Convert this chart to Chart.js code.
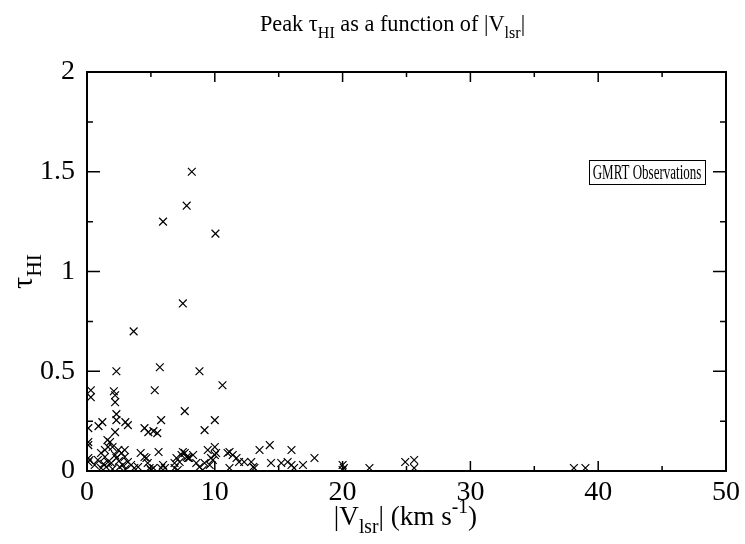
<!DOCTYPE html>
<html>
<head>
<meta charset="utf-8">
<script src="https://cdn.jsdelivr.net/npm/chart.js@4/dist/chart.umd.min.js"></script>
<style>
  html, body { margin: 0; padding: 0; background: #fff; }
  #wrap { width: 745px; height: 544px; }
</style>
</head>
<body>
<div id="wrap"><canvas id="tauChart"></canvas></div>
<script>
// |V_lsr| (km/s) and peak tau_HI
var vlsr = [
    8.2, 7.8, 5.95, 10.05, 7.5, 3.65,
    8.8, 2.3, 5.7, 10.6, 5.3,
    0.3, 0.3, 2.1, 2.2, 2.2,
    7.65, 2.3, 5.8, 10.0, 9.2,
    1.2, 0.9, 2.3, 3.0, 3.2, 0.1,
    4.5, 4.8, 5.5, 5.2, 2.2,
    0.1, 0.1, 1.6, 1.8, 2.0,
    5.6, 0.1, 0.1, 0.2,
    1.1, 1.4, 0.85, 1.65, 1.9, 2.3, 2.7, 2.95, 3.2, 3.45, 2.55, 3.7,
    4.2, 4.5, 4.75, 5.0, 4.0, 1.1, 0.6, 1.5, 2.0, 2.8, 3.0, 1.3, 2.5,
    1.4, 1.65, 2.45, 2.95, 2.2, 4.65, 5.2,
    10.0, 10.1, 9.85, 11.0, 7.5, 7.65, 7.8, 8.3, 7.0, 7.25, 6.85,
    5.95, 6.1, 5.8, 8.55, 8.8, 9.05, 9.6, 4.9, 6.85, 7.1, 8.0, 9.45, 9.7, 10.0,
    7.4, 7.9, 9.2,
    11.15, 11.4, 11.7, 11.9, 12.3, 12.85, 13.0, 13.1, 11.15, 13.5, 14.3,
    14.4, 15.2, 15.7, 16.0, 16.2, 16.9, 16.0, 17.8,
    20.0, 20.1, 20.0, 22.1, 24.9, 25.6, 25.6, 38.1, 39.0
];
var tauHI = [
    1.50, 1.33, 1.25, 1.19, 0.84, 0.70,
    0.50, 0.50, 0.52, 0.43, 0.405,
    0.405, 0.37, 0.40, 0.38, 0.345,
    0.30, 0.285, 0.255, 0.255, 0.205,
    0.245, 0.225, 0.255, 0.245, 0.23, 0.215,
    0.215, 0.195, 0.19, 0.20, 0.195,
    0.145, 0.13, 0.155, 0.145, 0.12,
    0.095, 0.065, 0.045, 0.055,
    0.09, 0.07, 0.055, 0.045, 0.04, 0.065, 0.09, 0.07, 0.045, 0.03, 0.02, 0.015,
    0.09, 0.07, 0.04, 0.005, 0.02, 0.015, 0.03, 0.02, 0.01, 0.03, 0.01, 0.035, 0.05,
    0.105, 0.12, 0.105, 0.105, 0.08, 0.065, 0.015,
    0.12, 0.09, 0.055, 0.09, 0.095, 0.09, 0.07, 0.08, 0.065, 0.045, 0.04,
    0.03, 0.015, 0.015, 0.04, 0.02, 0.005, 0.03, 0.015, 0.015, 0.005, 0.065, 0.105, 0.065, 0.08,
    0.08, 0.065, 0.04,
    0.095, 0.08, 0.065, 0.045, 0.045, 0.045, 0.02, 0.015, 0.015, 0.105, 0.13,
    0.04, 0.04, 0.045, 0.03, 0.015, 0.03, 0.105, 0.065,
    0.03, 0.015, 0.005, 0.015, 0.045, 0.055, 0.015, 0.015, 0.015
];

var xMajor = [0, 10, 20, 30, 40, 50];
var xMinor = [5, 15, 25, 35, 45];
var yMajor = [0, 0.5, 1, 1.5, 2];
var yMinor = [0.25, 0.75, 1.25, 1.75];

var serif = '"Liberation Serif", "DejaVu Serif", serif';

var points = vlsr.map(function (v, i) { return { x: v, y: tauHI[i] }; });

// draws text runs with sub/superscripts, centred on cx; squeeze < 1 narrows it
function drawRich(ctx, parts, cx, cy, size, squeeze) {
    squeeze = squeeze || 1;
    var w = 0;
    parts.forEach(function (p) {
        var s = p.sub || p.sup ? size * 0.72 : size;
        ctx.font = s + 'px ' + serif;
        p.w = ctx.measureText(p.t).width;
        p.s = s;
        w += p.w;
    });
    ctx.save();
    ctx.translate(cx, cy);
    ctx.scale(squeeze, 1);
    var x = -w / 2;
    ctx.textBaseline = 'alphabetic';
    ctx.textAlign = 'left';
    parts.forEach(function (p) {
        ctx.font = p.s + 'px ' + serif;
        var dy = p.sub ? size * 0.3 : (p.sup ? -size * 0.42 : 0);
        ctx.fillText(p.t, x, dy);
        x += p.w;
    });
    ctx.restore();
}

var decorPlugin = {
    id: 'decor',
    afterDraw: function (chart) {
        var ctx = chart.ctx;
        var a = chart.chartArea;
        var xs = chart.scales.x, ys = chart.scales.y;
        ctx.save();
        ctx.strokeStyle = '#000';
        ctx.fillStyle = '#000';

        // frame
        ctx.lineWidth = 2;
        ctx.strokeRect(a.left, a.top, a.right - a.left, a.bottom - a.top);

        // inward ticks on all four sides
        ctx.lineWidth = 1.5;
        ctx.beginPath();
        function xt(v, len) {
            var px = xs.getPixelForValue(v);
            ctx.moveTo(px, a.bottom); ctx.lineTo(px, a.bottom - len);
            ctx.moveTo(px, a.top); ctx.lineTo(px, a.top + len);
        }
        function yt(v, len) {
            var py = ys.getPixelForValue(v);
            ctx.moveTo(a.left, py); ctx.lineTo(a.left + len, py);
            ctx.moveTo(a.right, py); ctx.lineTo(a.right - len, py);
        }
        xMajor.forEach(function (v) { xt(v, 10); });
        xMinor.forEach(function (v) { xt(v, 5); });
        yMajor.forEach(function (v) { yt(v, 13); });
        yMinor.forEach(function (v) { yt(v, 6); });
        ctx.stroke();

        var cx = (a.left + a.right) / 2;

        // title
        drawRich(ctx, [
            { t: 'Peak \u03c4' }, { t: 'HI', sub: true },
            { t: ' as a function of |V' }, { t: 'lsr', sub: true }, { t: '|' }
        ], cx - 14, 31, 23, 0.97);

        // x axis title
        drawRich(ctx, [
            { t: '|V' }, { t: 'lsr', sub: true }, { t: '| (km s' },
            { t: '-1', sup: true }, { t: ')' }
        ], cx - 1, 525, 28, 0.97);

        // y axis title, rotated
        ctx.save();
        ctx.translate(32, (a.top + a.bottom) / 2);
        ctx.rotate(-Math.PI / 2);
        drawRich(ctx, [{ t: '\u03c4' }, { t: 'HI', sub: true }], 0, 0, 30);
        ctx.restore();

        // legend box
        ctx.lineWidth = 1;
        ctx.strokeRect(589.5, 160.5, 116, 24);
        drawRich(ctx, [{ t: 'GMRT Observations' }], 647, 179, 20, 0.65);

        ctx.restore();
    }
};

new Chart(document.getElementById('tauChart'), {
    type: 'scatter',
    data: {
        datasets: [{
            label: 'GMRT Observations',
            data: points,
            pointStyle: 'crossRot',
            pointRadius: 5.5,
            pointHoverRadius: 5.5,
            borderColor: '#000',
            borderWidth: 1.2,
            backgroundColor: '#000'
        }]
    },
    options: {
        responsive: true,
        maintainAspectRatio: false,
        animation: false,
        events: [],
        layout: { padding: { top: 72, right: 17, left: 0, bottom: 0 } },
        plugins: {
            legend: { display: false },
            title: { display: false },
            tooltip: { enabled: false }
        },
        scales: {
            x: {
                type: 'linear',
                min: 0,
                max: 50,
                grid: { display: false, drawTicks: false },
                border: { display: false },
                ticks: {
                    stepSize: 10,
                    padding: 5,
                    color: '#000',
                    font: { family: serif, size: 28 },
                    maxRotation: 0
                },
                afterFit: function (s) { s.height = 73; }
            },
            y: {
                type: 'linear',
                min: 0,
                max: 2,
                grid: { display: false, drawTicks: false },
                border: { display: false },
                ticks: {
                    stepSize: 0.5,
                    padding: 12,
                    color: '#000',
                    font: { family: serif, size: 28 },
                    callback: function (v) { return String(v); }
                },
                afterFit: function (s) { s.width = 87; }
            }
        }
    },
    plugins: [decorPlugin]
});
</script>
</body>
</html>
